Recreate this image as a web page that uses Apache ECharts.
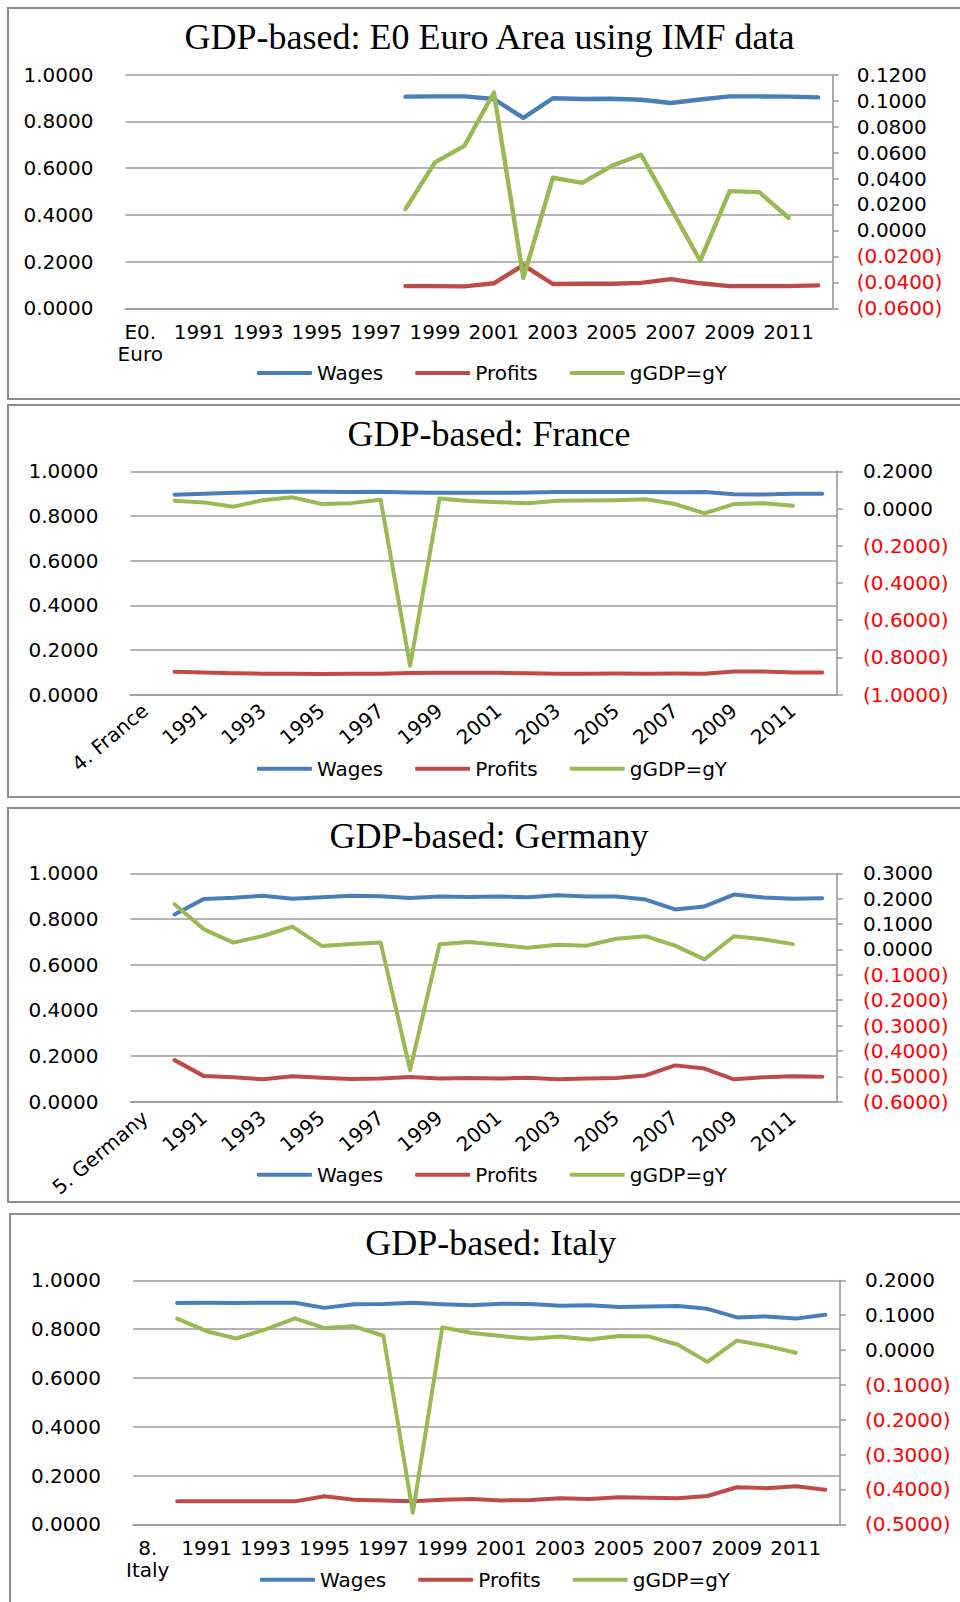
<!DOCTYPE html>
<html>
<head>
<meta charset="utf-8">
<script src="https://cdn.jsdelivr.net/npm/echarts@6.0.0/dist/echarts.min.js"></script>
<style>
html,body{margin:0;padding:0;background:#fff;width:960px;height:1602px;overflow:hidden;position:relative;}
.box{position:absolute;border:2px solid #8c8c8c;box-sizing:border-box;}
.chart{position:absolute;left:0;width:960px;}
</style>
</head>
<body>
<div class="box" style="left:7px;top:7px;width:1000px;height:393px"></div>
<div class="box" style="left:7px;top:404px;width:1000px;height:394px"></div>
<div class="box" style="left:7px;top:807px;width:1000px;height:396px"></div>
<div class="box" style="left:9px;top:1213px;width:1000px;height:400px"></div>
<div id="c1" class="chart" style="top:0px;height:400px"></div>
<div id="c2" class="chart" style="top:400px;height:400px"></div>
<div id="c3" class="chart" style="top:800px;height:405px"></div>
<div id="c4" class="chart" style="top:1205px;height:397px"></div>
<script>
// ---------- categories ----------
const years = ['1990','1991','1992','1993','1994','1995','1996','1997','1998','1999','2000','2001','2002','2003','2004','2005','2006','2007','2008','2009','2010','2011','2012'];
const seriesNames = ['Wages', 'Profits', 'gGDP=gY'];

// ---------- E0 Euro Area ----------
const euroTitle = 'GDP-based: E0 Euro Area using IMF data';
const euroLabel = 'E0. Euro';
const euroWages   = [null,null,null,null,null,null,null,null,0.906,0.907,0.907,0.896,0.815,0.899,0.896,0.897,0.893,0.879,0.894,0.907,0.907,0.906,0.903];
const euroProfits = [null,null,null,null,null,null,null,null,0.095,0.095,0.094,0.107,0.185,0.104,0.105,0.105,0.109,0.125,0.107,0.095,0.095,0.095,0.098];
const euroGrowth  = [null,null,null,null,null,null,null,null,0.0164,0.0524,0.0652,0.1063,-0.0365,0.0406,0.0367,0.0498,0.0583,0.0175,-0.0234,0.0303,0.0295,0.0098];
const euroRightTicks = [-0.06, 0.12, 0.02];

// ---------- France ----------
const franceTitle = 'GDP-based: France';
const franceLabel = '4. France';
const franceWages   = [0.895,0.899,0.904,0.907,0.908,0.908,0.907,0.908,0.905,0.904,0.904,0.904,0.905,0.907,0.907,0.907,0.907,0.906,0.907,0.897,0.896,0.900,0.900];
const franceProfits = [0.103,0.099,0.096,0.094,0.094,0.093,0.094,0.094,0.097,0.098,0.098,0.098,0.096,0.094,0.094,0.095,0.094,0.095,0.094,0.104,0.104,0.099,0.099];
const franceGrowth  = [0.042,0.033,0.010,0.045,0.060,0.024,0.029,0.047,-0.845,0.054,0.040,0.034,0.029,0.042,0.043,0.045,0.050,0.024,-0.026,0.024,0.028,0.015];
const franceRightTicks = [-1.0, 0.2, 0.2];

// ---------- Germany ----------
const germanyTitle = 'GDP-based: Germany';
const germanyLabel = '5. Germany';
const germanyWages   = [0.820,0.888,0.893,0.902,0.889,0.895,0.902,0.899,0.892,0.898,0.896,0.898,0.895,0.904,0.898,0.898,0.885,0.842,0.855,0.907,0.894,0.889,0.891];
const germanyProfits = [0.182,0.112,0.107,0.098,0.111,0.105,0.099,0.102,0.108,0.102,0.104,0.102,0.105,0.098,0.102,0.104,0.115,0.159,0.145,0.098,0.107,0.111,0.109];
const germanyGrowth  = [0.178,0.079,0.027,0.053,0.090,0.014,0.021,0.027,-0.475,0.020,0.029,0.018,0.007,0.018,0.015,0.042,0.052,0.015,-0.039,0.052,0.040,0.021];
const germanyRightTicks = [-0.6, 0.3, 0.1];

// ---------- Italy ----------
const italyTitle = 'GDP-based: Italy';
const italyLabel = '8. Italy';
const italyWages   = [0.907,0.908,0.907,0.908,0.908,0.887,0.902,0.903,0.908,0.902,0.898,0.904,0.903,0.896,0.898,0.891,0.893,0.895,0.883,0.848,0.852,0.843,0.859];
const italyProfits = [0.094,0.094,0.094,0.094,0.094,0.115,0.101,0.098,0.094,0.101,0.104,0.098,0.100,0.107,0.104,0.111,0.109,0.107,0.116,0.152,0.148,0.156,0.142];
const italyGrowth  = [0.090,0.054,0.033,0.059,0.091,0.063,0.068,0.041,-0.467,0.065,0.049,0.040,0.032,0.039,0.030,0.040,0.039,0.015,-0.034,0.027,0.012,-0.008];
const italyRightTicks = [-0.5, 0.2, 0.1];

const leftTicks = [0, 1, 0.2];

const colors = ['#4A7EBB', '#BE4B48', '#98B954'];
const SANS = 'DejaVu Sans';
const SERIF = 'Liberation Serif';

const panels = [
  {el:'c1', h:400, title:euroTitle, label:euroLabel, w:euroWages, p:euroProfits, g:euroGrowth, r:euroRightTicks,
   grid:{left:125.5, right:127.2, top:74.7, bottom:91.7}, rotate:0, tx:489.5, ty:38.3, lx:257, ly:375, lw:4.4, rm:24, lm:32},
  {el:'c2', h:400, title:franceTitle, label:franceLabel, w:franceWages, p:franceProfits, g:franceGrowth, r:franceRightTicks,
   grid:{left:130.4, right:123, top:71.3, bottom:105.3}, rotate:40, tx:489, ty:35, lx:257, ly:370.7, lw:4, rm:26, lm:32},
  {el:'c3', h:405, title:germanyTitle, label:germanyLabel, w:germanyWages, p:germanyProfits, g:germanyGrowth, r:germanyRightTicks,
   grid:{left:130.4, right:123, top:73.3, bottom:103.3}, rotate:40, tx:489, ty:36.7, lx:257, ly:376.7, lw:4, rm:26, lm:32},
  {el:'c4', h:397, title:italyTitle, label:italyLabel, w:italyWages, p:italyProfits, g:italyGrowth, r:italyRightTicks,
   grid:{left:133, right:120, top:75.3, bottom:77.7}, rotate:0, tx:490.7, ty:39.3, lx:260, ly:376.7, lw:4, rm:25, lm:32}
];

function fmtRight(v) {
  v = Number(v);
  if (Math.abs(v) < 1e-9) return '0.0000';
  return v < 0 ? '(' + Math.abs(v).toFixed(4) + ')' : v.toFixed(4);
}

panels.forEach(function (pn) {
  const chart = echarts.init(document.getElementById(pn.el), null, {renderer: 'svg'});
  const cats = [pn.label].concat(years);
  const pad = function (arr) { return [null].concat(arr); };
  const lineStyle = function (c) { return {color: c, width: pn.lw, cap: 'round', join: 'round'}; };
  const option = {
    animation: false,
    backgroundColor: 'transparent',
    title: {
      text: pn.title,
      left: pn.tx,
      top: pn.ty - 19,
      textAlign: 'center',
      padding: 0,
      textStyle: {fontFamily: SERIF, fontSize: 36, fontWeight: 'normal', color: '#000'}
    },
    legend: {
      data: seriesNames,
      left: pn.lx,
      top: pn.ly - 12,
      padding: 0,
      icon: 'roundRect',
      itemWidth: 55,
      itemHeight: 4,
      itemGap: 32,
      textStyle: {fontFamily: SANS, fontSize: 20, color: '#000'}
    },
    grid: pn.grid,
    xAxis: {
      type: 'category',
      data: cats,
      boundaryGap: true,
      axisLine: {show: true, lineStyle: {color: '#999', width: 1.5}},
      axisTick: {show: false},
      axisLabel: {
        interval: 1,
        rotate: pn.rotate,
        margin: pn.rotate ? 13 : 13,
        fontFamily: SANS,
        fontSize: 20,
        lineHeight: 22,
        color: '#000',
        formatter: function (v, i) {
          if (i === 0 && !pn.rotate) return v.replace(' ', '\n');
          return v;
        }
      }
    },
    yAxis: [
      {
        type: 'value', min: leftTicks[0], max: leftTicks[1], interval: leftTicks[2],
        axisLine: {show: false}, axisTick: {show: false},
        splitLine: {show: true, lineStyle: {color: '#9c9c9c', width: 1.6}},
        axisLabel: {fontFamily: SANS, fontSize: 20, color: '#000', margin: pn.lm,
          formatter: function (v) { return Number(v).toFixed(4); }}
      },
      {
        type: 'value', min: pn.r[0], max: pn.r[1], interval: pn.r[2], position: 'right',
        axisLine: {show: true, lineStyle: {color: '#999', width: 1.6}},
        axisTick: {show: true, inside: false, length: 6, lineStyle: {color: '#999', width: 1.5}},
        splitLine: {show: false},
        axisLabel: {fontFamily: SANS, fontSize: 20, margin: pn.rm,
          color: function (v) { return Number(v) < -1e-9 ? '#FF0000' : '#000'; },
          formatter: fmtRight}
      }
    ],
    series: [
      {name: seriesNames[0], type: 'line', yAxisIndex: 0, data: pad(pn.w), showSymbol: false, symbol: 'none', lineStyle: lineStyle(colors[0]), itemStyle: {color: colors[0]}},
      {name: seriesNames[1], type: 'line', yAxisIndex: 0, data: pad(pn.p), showSymbol: false, symbol: 'none', lineStyle: lineStyle(colors[1]), itemStyle: {color: colors[1]}},
      {name: seriesNames[2], type: 'line', yAxisIndex: 1, data: pad(pn.g), showSymbol: false, symbol: 'none', lineStyle: lineStyle(colors[2]), itemStyle: {color: colors[2]}}
    ]
  };
  chart.setOption(option);
});
</script>
</body>
</html>
